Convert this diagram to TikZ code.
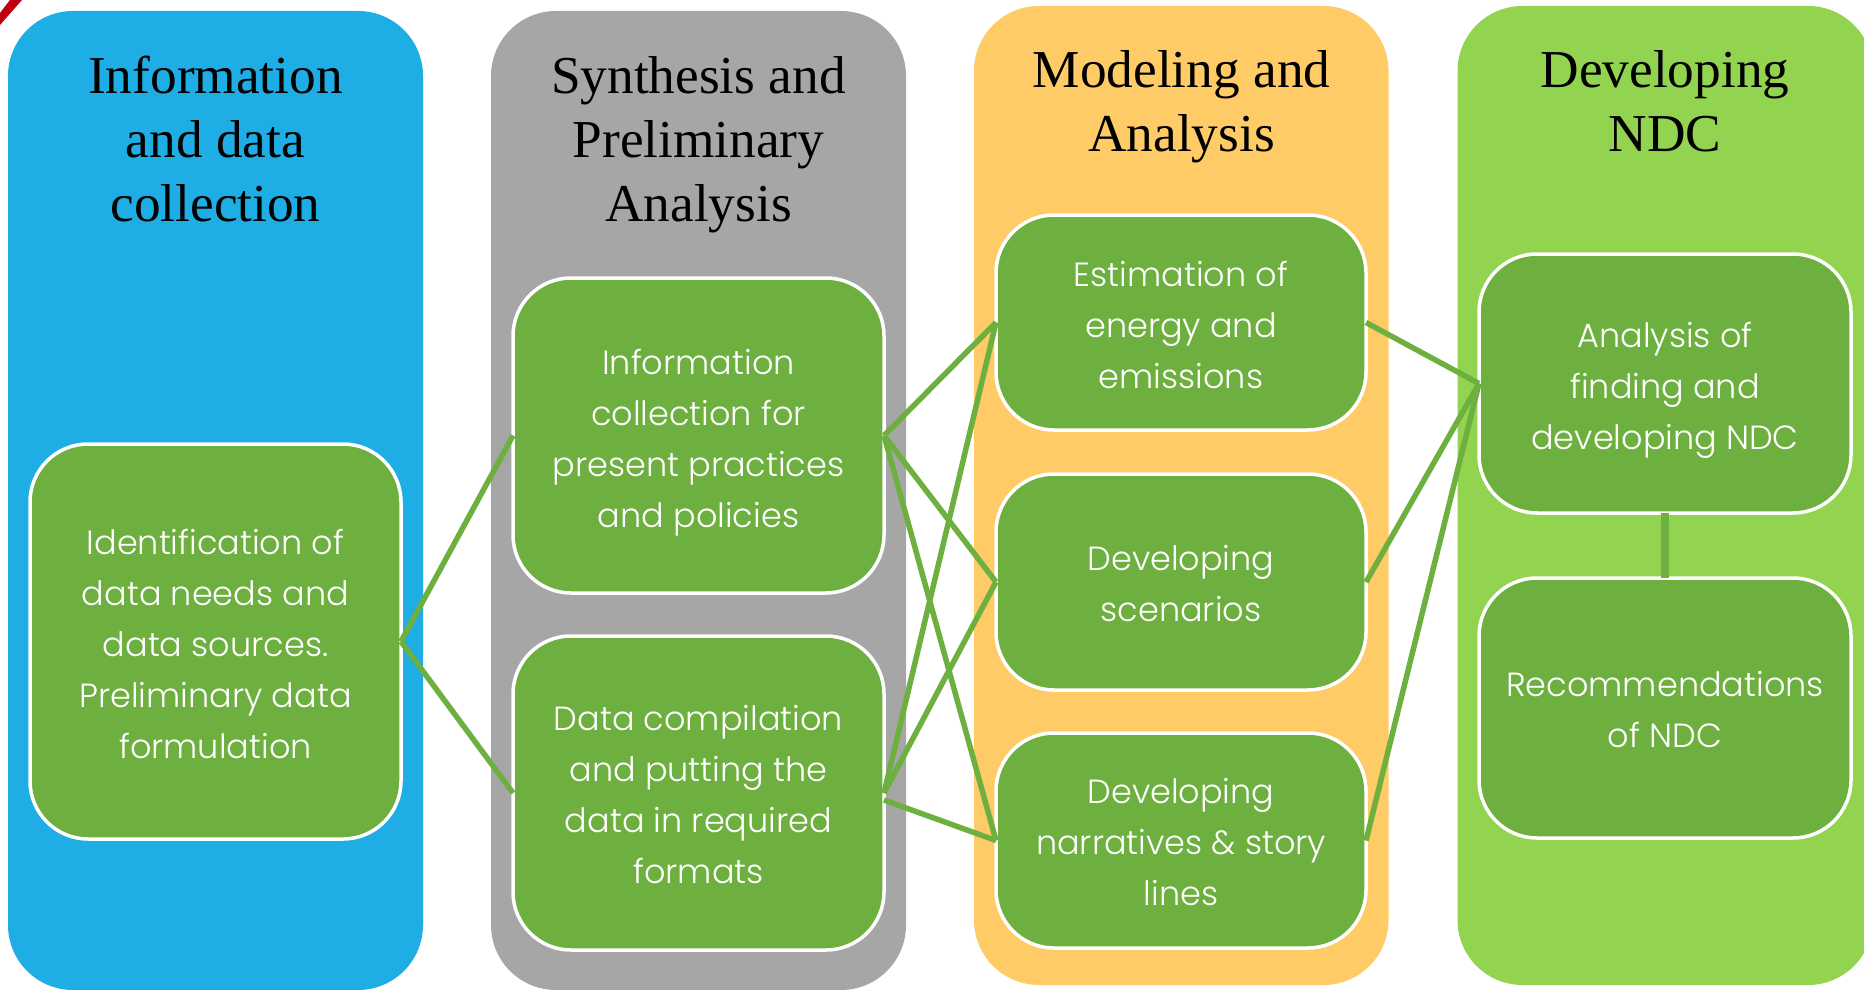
\documentclass[tikz,border=0pt]{standalone}
\usepackage{fontspec}
\setmainfont{Liberation Serif}
\newfontfamily\boxfont{Poppins Light}
\definecolor{cblue}{HTML}{1EADE4}
\definecolor{cgray}{HTML}{A6A6A6}
\definecolor{corange}{HTML}{FFCB66}
\definecolor{clime}{HTML}{92D350}
\definecolor{cgreen}{HTML}{6EB040}
\definecolor{cred}{HTML}{C00010}
\tikzset{
  x=1pt,y=-1pt,
  panel/.style={rounded corners=65pt,inner sep=0pt,outer sep=0pt},
  head/.style={font=\fontsize{53.3}{64}\selectfont,align=center,text=black,inner sep=0pt},
  item/.style={draw=white,line width=3.5pt,fill=cgreen,rounded corners=58pt,inner sep=0pt,outer sep=0pt,text=white,align=center,font=\boxfont\fontsize{33.5}{51}\selectfont},
  link/.style={draw=cgreen,line width=5.5pt}
}
% name, centre, width, height, text, text shift
\newcommand{\itembox}[6]{%
  \node[item,minimum width=#3 pt,minimum height=#4 pt] (#1) at (#2) {};
  \node[inner sep=0pt,text=white,align=center,font=\boxfont\fontsize{33.5}{51}\selectfont,yshift=-#6 pt] (#1t) at (#1.center) {#5};}
\begin{document}
\begin{tikzpicture}
\useasboundingbox (0,0) rectangle (1864,990);
\clip (0,0) rectangle (1864,990);
\fill[cblue,panel] (8,11) rectangle (423,990);
\fill[cgray,panel] (491,11) rectangle (906,990);
\fill[corange,panel] (974,6) rectangle (1388.5,985);
\fill[clime,panel] (1457.5,6) rectangle (1873,985);
\fill[cred] (0,13) -- (10,0) -- (22,0) -- (0,25) -- cycle;
\node[head] (h1) at (215.5,139) {Information\\and data\\collection};
\node[head] (h2) at (698.5,145) {Synthesis and\\Preliminary\\Analysis};
\node[head] (h3) at (1181.5,107) {Modeling and\\Analysis};
\node[head] (h4) at (1665,101) {Developing\\NDC};
\itembox{a}{215.5,641.5}{371}{395}{Identification of\\data needs and\\data sources.\\Preliminary data\\formulation}{2}
\itembox{b}{698.5,435.5}{371}{315}{Information\\collection for\\present practices\\and policies}{7}
\itembox{c}{698.5,793}{371}{314}{Data compilation\\and putting the\\data in required\\formats}{2}
\itembox{d}{1181,322.5}{370}{215}{Estimation of\\energy and\\emissions}{2}
\itembox{e}{1181,582}{370}{216}{Developing\\scenarios}{2}
\itembox{f}{1181,840.5}{370}{215}{Developing\\narratives \& story\\lines}{2}
\itembox{g}{1665,383.5}{372}{259}{Analysis of\\finding and\\developing NDC}{7}
\itembox{k}{1665,708}{372}{260}{Recommendations\\of NDC}{2}
\draw[link] (a.east) -- (b.west);
\draw[link] (a.east) -- (c.west);
\draw[link] (b.east) -- (d.west);
\draw[link] (b.east) -- (e.west);
\draw[link] (b.east) -- (f.west);
\draw[link] (c.east) -- (d.west);
\draw[link] (c.east) -- (e.west);
\draw[link] ([yshift=-7pt]c.east) -- (f.west);
\draw[link] (d.east) -- (g.west);
\draw[link] (e.east) -- (g.west);
\draw[link] (f.east) -- (g.west);
\draw[link,line width=8pt] (g.south) -- (k.north);
\end{tikzpicture}
\end{document}
